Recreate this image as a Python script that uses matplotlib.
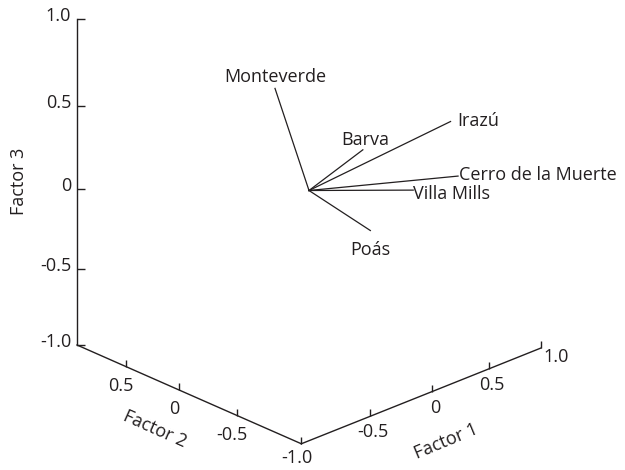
import numpy as np
import matplotlib.pyplot as plt

# factor loadings (Factor 1, Factor 2, Factor 3)
stations = ['Monteverde', 'Barva', 'Irazú', 'Cerro de la Muerte', 'Villa Mills', 'Poás']
factor1 = [0.10, 0.50, 0.90, 0.95, 0.80, 0.30]
factor2 = [0.42, 0.03, -0.36, -0.38, -0.13, -0.23]
factor3 = [0.55, 0.17, 0.35, 0.00, -0.11, -0.26]

ticks = [-1.0, -0.5, 0.0, 0.5, 1.0]
tick_labels = ['-1.0', '-0.5', '0', '0.5', '1.0']

# label placement for each station: (ha, offset in points)
label_pos = {
    'Monteverde': ('center', (0, 4.3)),
    'Barva': ('center', (1.7, 3.6)),
    'Irazú': ('left', (4.8, -2.9)),
    'Cerro de la Muerte': ('left', (0.7, -2.9)),
    'Villa Mills': ('left', (0, -6.7)),
    'Poás': ('center', (0, -17.3)),
}

plt.rcParams['font.family'] = ['Open Sans', 'DejaVu Sans']
plt.rcParams['font.size'] = 13
ink = '#231f20'


def project(f1, f2, f3):
    # simple perspective view of the loading cube, viewer at the (-1, -1) corner
    f1, f2, f3 = np.asarray(f1, float), np.asarray(f2, float), np.asarray(f3, float)
    w = 1 + 0.083 * (f1 + f2)
    x = 309 + (119.2 * f1 - 112.8 * f2) / w
    y = 190.5 - (27.5 * f1 + 29.0 * f2) / w - 162.7 * f3 / (w - 0.043 * f3)
    return x, y


fig = plt.figure(figsize=(6.25, 4.7), dpi=100)
ax = fig.add_axes([0, 0, 1, 1])
ax.set_xlim(0, 625)
ax.set_ylim(470, 0)
ax.axis('off')

t = np.array(ticks)
ones = np.ones_like(t)

# axis lines
ax.plot(*project(-ones, ones, t), color=ink, lw=1.0)
ax.plot(*project(-ones, -t, -ones), color=ink, lw=1.0)
ax.plot(*project(t, -ones, -ones), color=ink, lw=1.0)

# tick marks
tick_up = [(0, 0), (0, 1)]
tick_right = [(0, 0), (1, 0)]
ax.plot(*project(-ones, ones, t), ls='none', marker=tick_right, ms=11, mec=ink, mfc='none', mew=1.0)
ax.plot(*project(-ones[1:], t[:-1], -ones[1:]), ls='none', marker=tick_up, ms=10, mec=ink, mfc='none', mew=1.0)
ax.plot(*project(t[1:], -ones[1:], -ones[1:]), ls='none', marker=tick_up, ms=10, mec=ink, mfc='none', mew=1.0)

# tick labels
for v, lab in zip(ticks, tick_labels):
    ax.annotate(lab, project(-1, 1, v), xytext=(-4.3, -1.5), textcoords='offset points',
                ha='right', va='baseline', color=ink)
for v, lab in zip(ticks[1:4], tick_labels[1:4]):
    ax.annotate(lab, project(-1, v, -1), xytext=(-3.6, -13.7), textcoords='offset points',
                ha='center', va='center', color=ink)
for v, lab in zip(ticks[1:], tick_labels[1:]):
    off = (10.8, -6.5) if v == 1.0 else (2.2, -11.5)
    ax.annotate(lab, project(v, -1, -1), xytext=off, textcoords='offset points',
                ha='center', va='center', color=ink)
ax.annotate('-1.0', project(-1, -1, -1), xytext=(-2.9, -10.5), textcoords='offset points',
            ha='center', va='center', color=ink)

# axis titles
ax.annotate('Factor 3', project(-1, 1, 0), xytext=(-42, 5.8), textcoords='offset points',
            ha='center', va='center', rotation=90, color=ink)
ax.annotate('Factor 2', project(-1, 0.2, -1), xytext=(-1.4, -35), textcoords='offset points',
            ha='center', va='center', rotation=-24, rotation_mode='anchor', color=ink)
ax.annotate('Factor 1', project(0.2, -1, -1), xytext=(-6.8, -42.3), textcoords='offset points',
            ha='center', va='center', rotation=22.6, rotation_mode='anchor', color=ink)

# loading vectors
x0, y0 = project(0, 0, 0)
xs, ys = project(factor1, factor2, factor3)
for name, x, y in zip(stations, xs, ys):
    ax.plot([x0, x], [y0, y], color=ink, lw=0.9)
    ha, off = label_pos[name]
    ax.annotate(name, (x, y), xytext=off, textcoords='offset points',
                ha=ha, va='baseline', color=ink)

fig.savefig('out.png', dpi=100)
